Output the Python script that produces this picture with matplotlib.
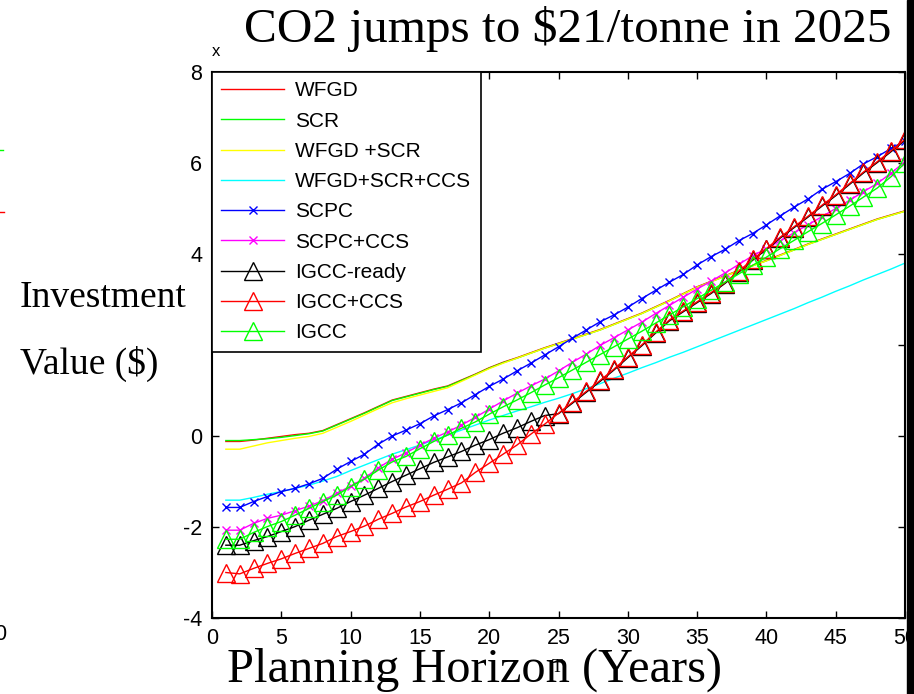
import numpy as np
import matplotlib.pyplot as plt
from matplotlib.lines import Line2D

plt.rcParams['font.family'] = ['Liberation Sans', 'DejaVu Sans']

years = np.arange(1, 51)

wfgd = [-0.12, -0.12, -0.09, -0.05, -0.01, 0.03, 0.06, 0.12, 0.25, 0.38,
        0.51, 0.65, 0.79, 0.87, 0.95, 1.03, 1.10, 1.23, 1.36, 1.50,
        1.62, 1.72, 1.83, 1.94, 2.04, 2.14, 2.24, 2.34, 2.46, 2.58,
        2.70, 2.84, 2.98, 3.13, 3.28, 3.40, 3.52, 3.64, 3.75, 3.86,
        3.98, 4.10, 4.22, 4.33, 4.44, 4.55, 4.66, 4.77, 4.86, 4.95]
scr = [-0.10, -0.10, -0.08, -0.06, -0.03, 0.01, 0.05, 0.11, 0.24, 0.37,
       0.50, 0.64, 0.78, 0.86, 0.94, 1.02, 1.09, 1.22, 1.35, 1.49,
       1.61, 1.71, 1.82, 1.93, 2.03, 2.13, 2.23, 2.33, 2.45, 2.57,
       2.69, 2.83, 2.97, 3.12, 3.27, 3.39, 3.51, 3.63, 3.74, 3.85,
       3.97, 4.09, 4.21, 4.32, 4.43, 4.54, 4.65, 4.76, 4.85, 4.94]
wfgd_scr = [-0.29, -0.29, -0.22, -0.15, -0.10, -0.05, -0.01, 0.06, 0.19, 0.32,
            0.46, 0.60, 0.73, 0.82, 0.90, 0.98, 1.06, 1.20, 1.34, 1.48,
            1.60, 1.71, 1.82, 1.93, 2.03, 2.13, 2.23, 2.33, 2.45, 2.57,
            2.69, 2.83, 2.97, 3.12, 3.27, 3.39, 3.51, 3.63, 3.74, 3.85,
            3.97, 4.09, 4.21, 4.32, 4.43, 4.54, 4.65, 4.76, 4.85, 4.94]
wfgd_scr_ccs = [-1.41, -1.41, -1.35, -1.28, -1.22, -1.15, -1.08, -0.99, -0.89, -0.76,
                -0.64, -0.52, -0.40, -0.30, -0.20, -0.09, 0.02, 0.13, 0.24, 0.35,
                0.45, 0.55, 0.64, 0.74, 0.83, 0.93, 1.04, 1.15, 1.27, 1.38,
                1.50, 1.61, 1.73, 1.84, 1.96, 2.08, 2.20, 2.32, 2.44, 2.56,
                2.68, 2.80, 2.93, 3.05, 3.18, 3.30, 3.43, 3.55, 3.67, 3.80]
scpc = [-1.57, -1.57, -1.44, -1.33, -1.22, -1.15, -1.05, -0.93, -0.73, -0.56,
        -0.40, -0.18, 0.00, 0.13, 0.27, 0.44, 0.58, 0.73, 0.91, 1.09,
        1.25, 1.43, 1.60, 1.78, 1.96, 2.15, 2.33, 2.51, 2.66, 2.83,
        3.02, 3.20, 3.38, 3.55, 3.76, 3.94, 4.10, 4.29, 4.45, 4.64,
        4.84, 5.03, 5.21, 5.42, 5.59, 5.77, 5.98, 6.14, 6.32, 6.49]
scpc_ccs = [-2.07, -2.07, -1.92, -1.81, -1.74, -1.64, -1.54, -1.42, -1.26, -1.10,
            -0.93, -0.70, -0.51, -0.37, -0.20, -0.05, 0.09, 0.24, 0.41, 0.59,
            0.77, 0.94, 1.10, 1.25, 1.43, 1.62, 1.80, 1.99, 2.16, 2.33,
            2.50, 2.69, 2.87, 3.05, 3.23, 3.40, 3.58, 3.77, 3.96, 4.12,
            4.29, 4.47, 4.64, 4.82, 5.00, 5.18, 5.37, 5.55, 5.78, 6.03]
igcc_ready = [-2.40, -2.40, -2.30, -2.21, -2.10, -1.99, -1.85, -1.72, -1.59, -1.44,
              -1.30, -1.15, -1.00, -0.86, -0.72, -0.58, -0.46, -0.34, -0.20, -0.08,
              0.06, 0.18, 0.32, 0.45, 0.49, 0.72, 0.96, 1.20, 1.45, 1.72,
              1.98, 2.26, 2.53, 2.73, 2.93, 3.13, 3.35, 3.60, 3.86, 4.10,
              4.35, 4.58, 4.81, 5.05, 5.28, 5.53, 5.78, 6.01, 6.25, 6.50]
igcc_ccs = [-3.00, -3.03, -2.91, -2.80, -2.70, -2.58, -2.47, -2.36, -2.21, -2.10,
            -1.98, -1.83, -1.70, -1.56, -1.44, -1.30, -1.17, -1.03, -0.80, -0.60,
            -0.40, -0.20, 0.04, 0.26, 0.50, 0.74, 0.98, 1.22, 1.47, 1.74,
            2.00, 2.28, 2.55, 2.75, 2.95, 3.15, 3.37, 3.62, 3.88, 4.12,
            4.37, 4.60, 4.83, 5.07, 5.30, 5.55, 5.80, 6.03, 6.27, 6.52]
igcc = [-2.27, -2.27, -2.12, -1.99, -1.88, -1.74, -1.59, -1.44, -1.30, -1.11,
        -0.95, -0.75, -0.57, -0.45, -0.28, -0.12, 0.02, 0.17, 0.31, 0.48,
        0.64, 0.79, 0.95, 1.12, 1.28, 1.45, 1.62, 1.79, 1.96, 2.13,
        2.30, 2.48, 2.66, 2.84, 3.02, 3.20, 3.38, 3.56, 3.75, 3.93,
        4.12, 4.30, 4.49, 4.67, 4.86, 5.05, 5.25, 5.45, 5.70, 6.00]

series = [
    ('WFGD', wfgd, '#ff0000', None),
    ('SCR', scr, '#00ff00', None),
    ('WFGD +SCR', wfgd_scr, '#ffff00', None),
    ('WFGD+SCR+CCS', wfgd_scr_ccs, '#00ffff', None),
    ('SCPC', scpc, '#0000ff', 'x'),
    ('SCPC+CCS', scpc_ccs, '#ff00ff', 'x'),
    ('IGCC-ready', igcc_ready, '#000000', '^'),
    ('IGCC+CCS', igcc_ccs, '#ff0000', '^'),
    ('IGCC', igcc, '#00ff00', '^'),
]

yticks = [-4, -2, 0, 2, 4, 6, 8]
ytick_labels = ['-4', '-2', '0', '', '4', '6', '8']
xticks = [0, 5, 10, 15, 20, 25, 30, 35, 40, 45, 50]

fig = plt.figure(figsize=(9.14, 6.94), dpi=100)
ax = fig.add_axes([212 / 914, 76 / 694, 693 / 914, 546 / 694])

for name, vals, col, mk in series:
    if mk == '^':
        ax.plot(years, vals, color=col, lw=1, marker='^', ms=12.5,
                mfc='none', mec=col, mew=1, label=name)
    elif mk == 'x':
        ax.plot(years, vals, color=col, lw=1, marker='x', ms=6,
                mew=1, label=name)
    else:
        ax.plot(years, vals, color=col, lw=1, label=name)

ax.set_xlim(0, 50)
ax.set_ylim(-4, 8)
ax.set_xticks(xticks)
ax.set_yticks(yticks)
ax.set_yticklabels(ytick_labels)
ax.tick_params(direction='in', top=True, right=True, length=5, width=1,
               labelsize=15.5, pad=7)
for sp in ax.spines.values():
    sp.set_linewidth(1.5)

leg = ax.legend(loc='upper left', bbox_to_anchor=(0, 1), borderaxespad=0,
                fontsize=15, numpoints=1, handlelength=3.0, handletextpad=0.55,
                labelspacing=0.54, borderpad=0.45, fancybox=False,
                edgecolor='black', framealpha=1)
leg.get_frame().set_linewidth(1.2)

serif = ['Liberation Serif', 'DejaVu Serif']
fig.text(568 / 914, 1 - 42 / 694, 'CO2 jumps to $21/tonne in 2025',
         family=serif, fontsize=35.5, ha='center', va='baseline', parse_math=False)
fig.text(474 / 914, 1 - 682 / 694, 'Planning Horizon (Years)',
         family=serif, fontsize=34.8, ha='center', va='baseline', parse_math=False)
fig.text(20 / 914, 1 - 307 / 694, 'Investment',
         family=serif, fontsize=27, ha='left', va='baseline', parse_math=False)
fig.text(20 / 914, 1 - 374 / 694, 'Value ($)',
         family=serif, fontsize=27, ha='left', va='baseline', parse_math=False)

# leftovers of the cropped figure
fig.text(216 / 914, 1 - 52 / 694, 'x', fontsize=12, ha='center', va='center')
fig.text(0, 1 - 635 / 694, '0', fontsize=15.5, ha='center', va='center')
fig.text(557 / 914, 1 - 667 / 694, 'T', family=serif, fontsize=13,
         ha='center', va='center')
fig.add_artist(Line2D([0, 3 / 914], [1 - 150 / 694] * 2, color='#00ff00', lw=1))
fig.add_artist(Line2D([0, 4 / 914], [1 - 212 / 694] * 2, color='#ff0000', lw=1))
fig.patches.append(plt.Rectangle((907 / 914, 0), 7 / 914, 1, transform=fig.transFigure,
                                 color='black', zorder=10))

fig.savefig('out.png', dpi=100)
